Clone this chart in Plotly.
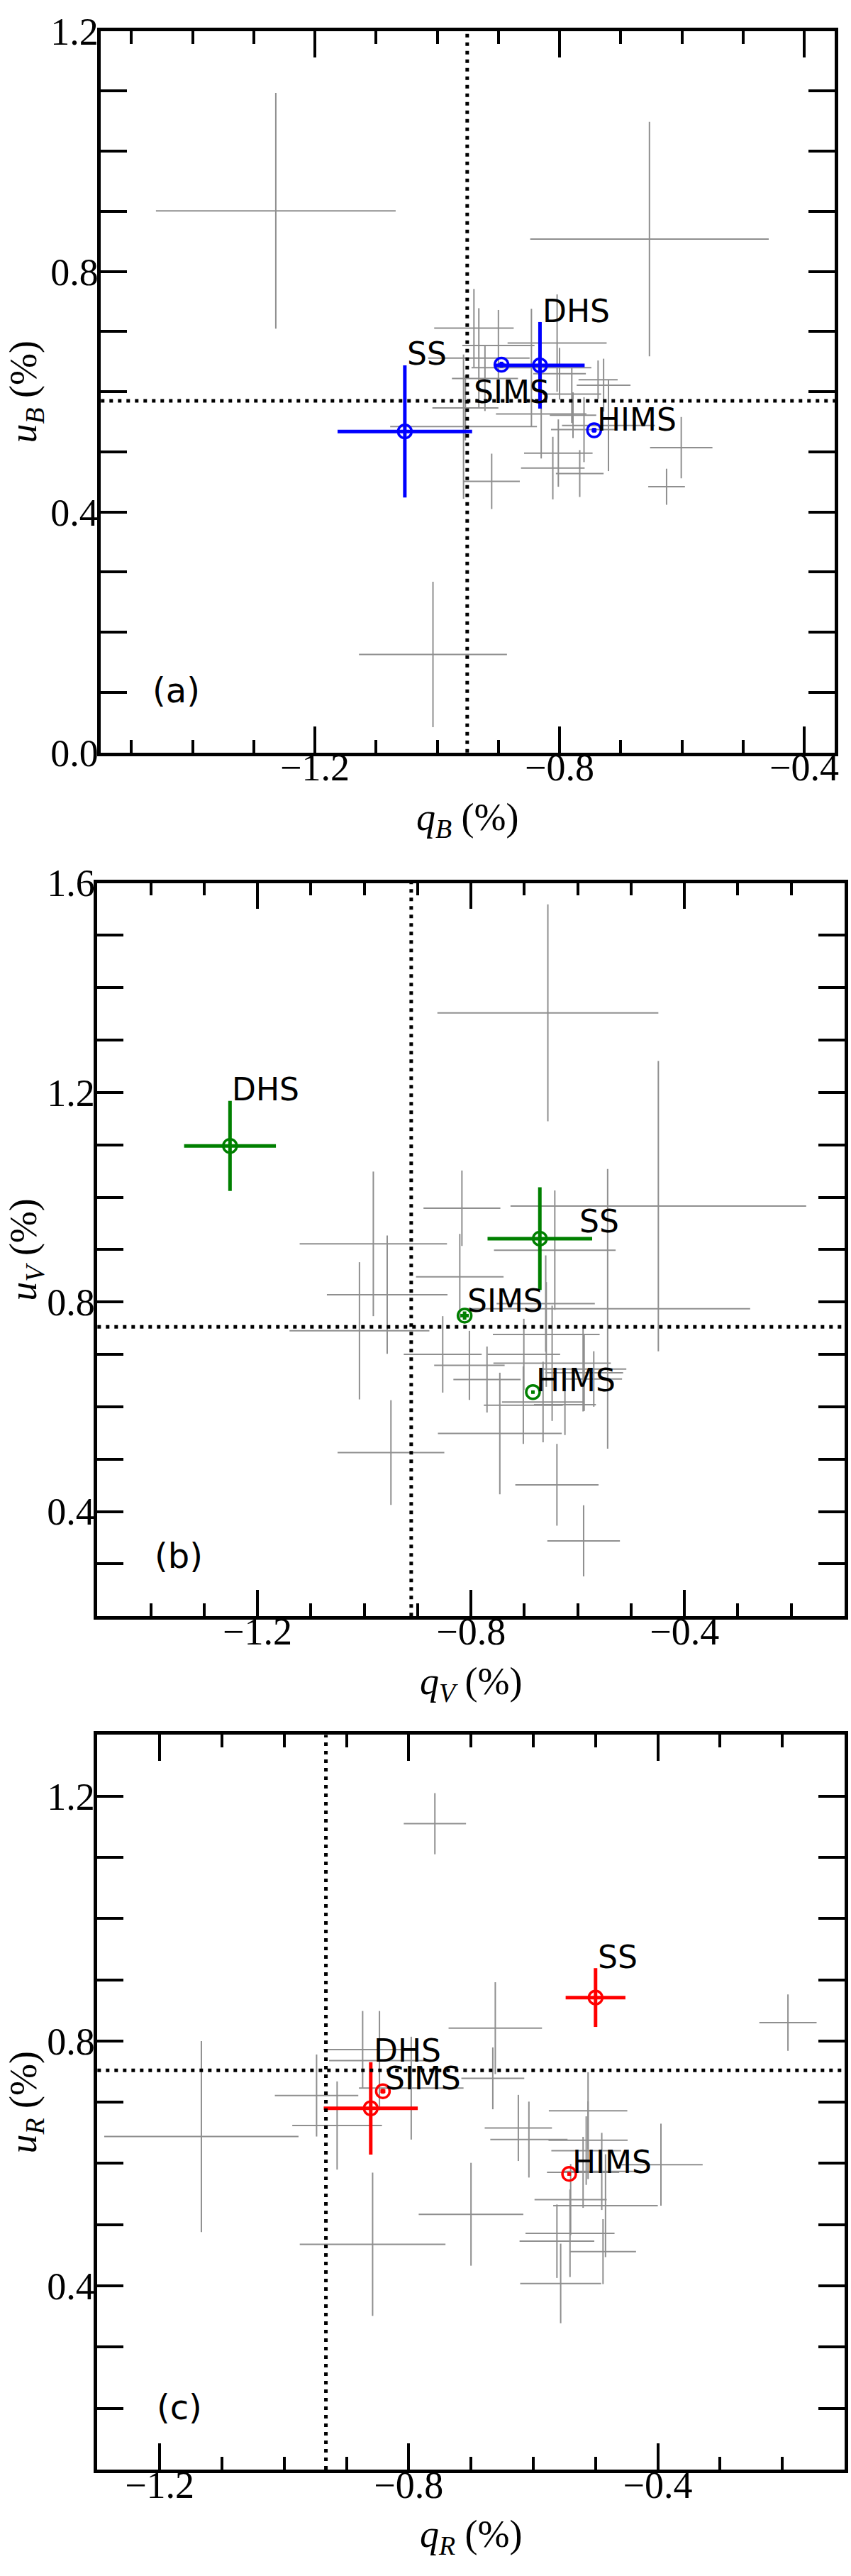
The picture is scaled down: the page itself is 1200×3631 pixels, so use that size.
import plotly.graph_objects as go

# ---------------- data ----------------
states = ["SS", "DHS", "SIMS", "HIMS"]

# Panel (a): B band
a_q = [-1.053, -0.832, -0.895, -0.7435]
a_u = [0.534, 0.644, 0.645, 0.536]
a_qerr = [0.110, 0.073, 0.005, 0.004]
a_uerr = [0.110, 0.072, 0.005, 0.004]
a_qmean, a_umean = -0.951, 0.585
a_gray_q = [-1.264, -0.653, -1.007, -0.601, -0.625, -0.940, -0.900, -0.804, -0.932,
            -0.846, -0.957, -0.922, -0.954, -0.830, -0.778, -0.728, -0.737, -0.720,
            -0.800, -0.780, -0.760, -0.802, -0.811, -0.767, -0.911]
a_gray_u = [0.901, 0.854, 0.163, 0.507, 0.442, 0.706, 0.677, 0.681, 0.656,
            0.640, 0.542, 0.622, 0.573, 0.563, 0.561, 0.611, 0.620, 0.544,
            0.630, 0.596, 0.537, 0.498, 0.473, 0.464, 0.451]
a_gray_err = [0.196, 0.195, 0.121, 0.051, 0.030, 0.065, 0.059, 0.081, 0.083,
              0.098, 0.120, 0.054, 0.054, 0.074, 0.038, 0.044, 0.032, 0.076,
              0.043, 0.048, 0.054, 0.056, 0.052, 0.039, 0.046]

# Panel (b): V band
b_q = [-0.671, -1.2515, -0.812, -0.684]
b_u = [0.921, 1.098, 0.774, 0.628]
b_qerr = [0.098, 0.086, 0.008, 0.003]
b_uerr = [0.098, 0.086, 0.008, 0.003]
b_qmean, b_umean = -0.912, 0.7525
b_gray_q = [-0.656, -0.449, -0.544, -0.817, -0.643, -0.821, -0.660, -0.659, -0.648,
            -0.853, -0.803, -0.770, -0.701, -0.665, -0.746, -0.702, -0.624, -0.590,
            -0.570, -0.588, -0.957, -0.983, -1.009, -0.950, -0.639, -0.589]
b_gray_u = [1.352, 0.983, 0.787, 0.979, 0.899, 0.848, 0.797, 0.738, 0.683,
            0.700, 0.679, 0.652, 0.700, 0.609, 0.549, 0.603, 0.604, 0.672,
            0.653, 0.665, 0.814, 0.911, 0.745, 0.5125, 0.451, 0.344]
b_gray_err = [0.207, 0.277, 0.267, 0.072, 0.114, 0.082, 0.092, 0.100, 0.110,
              0.073, 0.066, 0.063, 0.068, 0.077, 0.116, 0.074, 0.058, 0.081,
              0.053, 0.073, 0.113, 0.138, 0.131, 0.100, 0.078, 0.068]

# Panel (c): R band
c_q = [-0.500, -0.861, -0.8415, -0.5424]
c_u = [0.871, 0.690, 0.718, 0.583]
c_qerr = [0.048, 0.0755, 0.004, 0.003]
c_uerr = [0.048, 0.0755, 0.004, 0.003]
c_qmean, c_umean = -0.933, 0.752
c_gray_q = [-0.758, -0.191, -1.133, -0.948, -0.915, -0.858, -0.661, -0.665, -0.512,
            -0.624, -0.607, -0.512, -0.515, -0.395, -0.520, -0.540, -0.484, -0.490,
            -0.700, -0.541, -0.562, -0.488, -0.556, -0.796, -0.874, -0.847]
c_gray_u = [1.155, 0.830, 0.644, 0.711, 0.662, 0.468, 0.821, 0.739, 0.686,
            0.658, 0.639, 0.638, 0.621, 0.598, 0.5855, 0.541, 0.531, 0.587,
            0.517, 0.486, 0.473, 0.456, 0.404, 0.723, 0.786, 0.768]
c_gray_err = [0.050, 0.046, 0.156, 0.067, 0.072, 0.117, 0.075, 0.0505, 0.063,
              0.054, 0.062, 0.0635, 0.056, 0.067, 0.058, 0.058, 0.084, 0.063,
              0.084, 0.0715, 0.060, 0.053, 0.065, 0.084, 0.063, 0.081]

x_titles = ["<i>q</i><sub><i>B</i></sub> (%)", "<i>q</i><sub><i>V</i></sub> (%)", "<i>q</i><sub><i>R</i></sub> (%)"]
y_titles = ["<i>u</i><sub><i>B</i></sub> (%)", "<i>u</i><sub><i>V</i></sub> (%)", "<i>u</i><sub><i>R</i></sub> (%)"]
panel_tags = ["(a)", "(b)", "(c)"]

# ---------------- layout helpers ----------------
W, H = 1200, 3631
GRAY = "#8f8f8f"
SERIF = "Liberation Serif"
SANS = "DejaVu Sans"

panels = [
    dict(q=a_q, u=a_u, qe=a_qerr, ue=a_uerr, qm=a_qmean, um=a_umean,
         gq=a_gray_q, gu=a_gray_u, ge=a_gray_err, color="#0000ff",
         xr=[-1.55, -0.35], yr=[0.0, 1.2], px=(143, 1183), py=(15, 1049),
         labels={"DHS": (-0.830, 0.7346), "SS": (-1.0516, 0.6638),
                 "SIMS": (-0.943, 0.5994), "HIMS": (-0.741, 0.5536)},
         tag=(-1.468, 0.103)),
    dict(q=b_q, u=b_u, qe=b_qerr, ue=b_uerr, qm=b_qmean, um=b_umean,
         gq=b_gray_q, gu=b_gray_u, ge=b_gray_err, color="#008000",
         xr=[-1.5, -0.1], yr=[0.2, 1.6], px=(138, 1197), py=(1236, 2287),
         labels={"DHS": (-1.250, 1.2057), "SS": (-0.600, 0.9539),
                 "SIMS": (-0.810, 0.802), "HIMS": (-0.681, 0.651)},
         tag=(-1.396, 0.316)),
    dict(q=c_q, u=c_u, qe=c_qerr, ue=c_uerr, qm=c_qmean, um=c_umean,
         gq=c_gray_q, gu=c_gray_u, ge=c_gray_err, color="#ff0000",
         xr=[-1.3, -0.1], yr=[0.1, 1.3], px=(138, 1197), py=(2457, 3510),
         labels={"DHS": (-0.858, 0.7838), "SIMS": (-0.840, 0.7393),
                 "HIMS": (-0.5397, 0.6026), "SS": (-0.4983, 0.9376)},
         tag=(-1.207, 0.2014)),
]

fig = go.Figure()
shapes, annotations = [], []
layout_axes = {}

for i, p in enumerate(panels):
    n = "" if i == 0 else str(i + 1)
    xa, ya = "x" + n, "y" + n
    # gray crosses
    fig.add_trace(go.Scatter(
        x=p["gq"], y=p["gu"], mode="markers", xaxis=xa, yaxis=ya,
        marker=dict(size=2, color="rgba(0,0,0,0)"),
        error_x=dict(type="data", array=p["ge"], color=GRAY, thickness=2, width=0),
        error_y=dict(type="data", array=p["ge"], color=GRAY, thickness=2, width=0),
        showlegend=False, hoverinfo="skip"))
    # coloured states
    fig.add_trace(go.Scatter(
        x=p["q"], y=p["u"], mode="markers", xaxis=xa, yaxis=ya, text=states,
        marker=dict(symbol="circle-open", size=19, color=p["color"],
                    line=dict(width=3.5, color=p["color"])),
        error_x=dict(type="data", array=p["qe"], color=p["color"], thickness=5, width=0),
        error_y=dict(type="data", array=p["ue"], color=p["color"], thickness=5, width=0),
        showlegend=False))

    xd = [p["px"][0] / W, p["px"][1] / W]
    yd = [1 - p["py"][1] / H, 1 - p["py"][0] / H]
    common = dict(showline=True, linewidth=4.5, linecolor="black", mirror="allticks",
                  ticks="inside", ticklen=37, tickwidth=3.5, tickcolor="black",
                  showgrid=False, zeroline=False, tickformat=".1f", tick0=0, dtick=0.4,
                  tickfont=dict(family=SERIF, size=54, color="black"))
    layout_axes["xaxis" + n] = dict(common, range=p["xr"], domain=xd, anchor=ya,
                                    ticklabelstandoff=-30,
                                    minor=dict(dtick=0.1, tick0=0, ticks="inside", ticklen=18,
                                               tickwidth=3.5, tickcolor="black", showgrid=False))
    layout_axes["yaxis" + n] = dict(common, range=p["yr"], domain=yd, anchor=xa,
                                    ticklabelstandoff=-12,
                                    minor=dict(dtick=0.1, tick0=0, ticks="inside", ticklen=37,
                                               tickwidth=3.5, tickcolor="black", showgrid=False))

    dot = dict(color="black", width=5, dash="5px,7px")
    shapes.append(dict(type="line", xref=xa, yref=ya + " domain", x0=p["qm"], x1=p["qm"],
                       y0=0, y1=1, line=dot))
    shapes.append(dict(type="line", xref=xa + " domain", yref=ya, x0=0, x1=1,
                       y0=p["um"], y1=p["um"], line=dot))

    for name, (lx, ly) in p["labels"].items():
        annotations.append(dict(x=lx, y=ly, xref=xa, yref=ya, text=name, showarrow=False,
                                xanchor="left", yanchor="middle",
                                font=dict(family=SANS, size=44, color="black")))
    annotations.append(dict(x=p["tag"][0], y=p["tag"][1], xref=xa, yref=ya, text=panel_tags[i],
                            showarrow=False, xanchor="left", yanchor="middle",
                            font=dict(family=SANS, size=48, color="black")))
    annotations.append(dict(x=0.5, y=0, xref=xa + " domain", yref=ya + " domain",
                            text=x_titles[i], showarrow=False, xanchor="center",
                            yanchor="middle", yshift=-95,
                            font=dict(family=SERIF, size=54, color="black")))
    annotations.append(dict(x=0, y=0.5, xref=xa + " domain", yref=ya + " domain",
                            text=y_titles[i], showarrow=False, xanchor="center",
                            yanchor="middle", xshift=-(p["px"][0] - 37), textangle=-90,
                            font=dict(family=SERIF, size=54, color="black")))

fig.update_layout(width=W, height=H, margin=dict(l=0, r=0, t=0, b=0),
                  paper_bgcolor="white", plot_bgcolor="white",
                  shapes=shapes, annotations=annotations, **layout_axes)

fig.write_html("out.html")
